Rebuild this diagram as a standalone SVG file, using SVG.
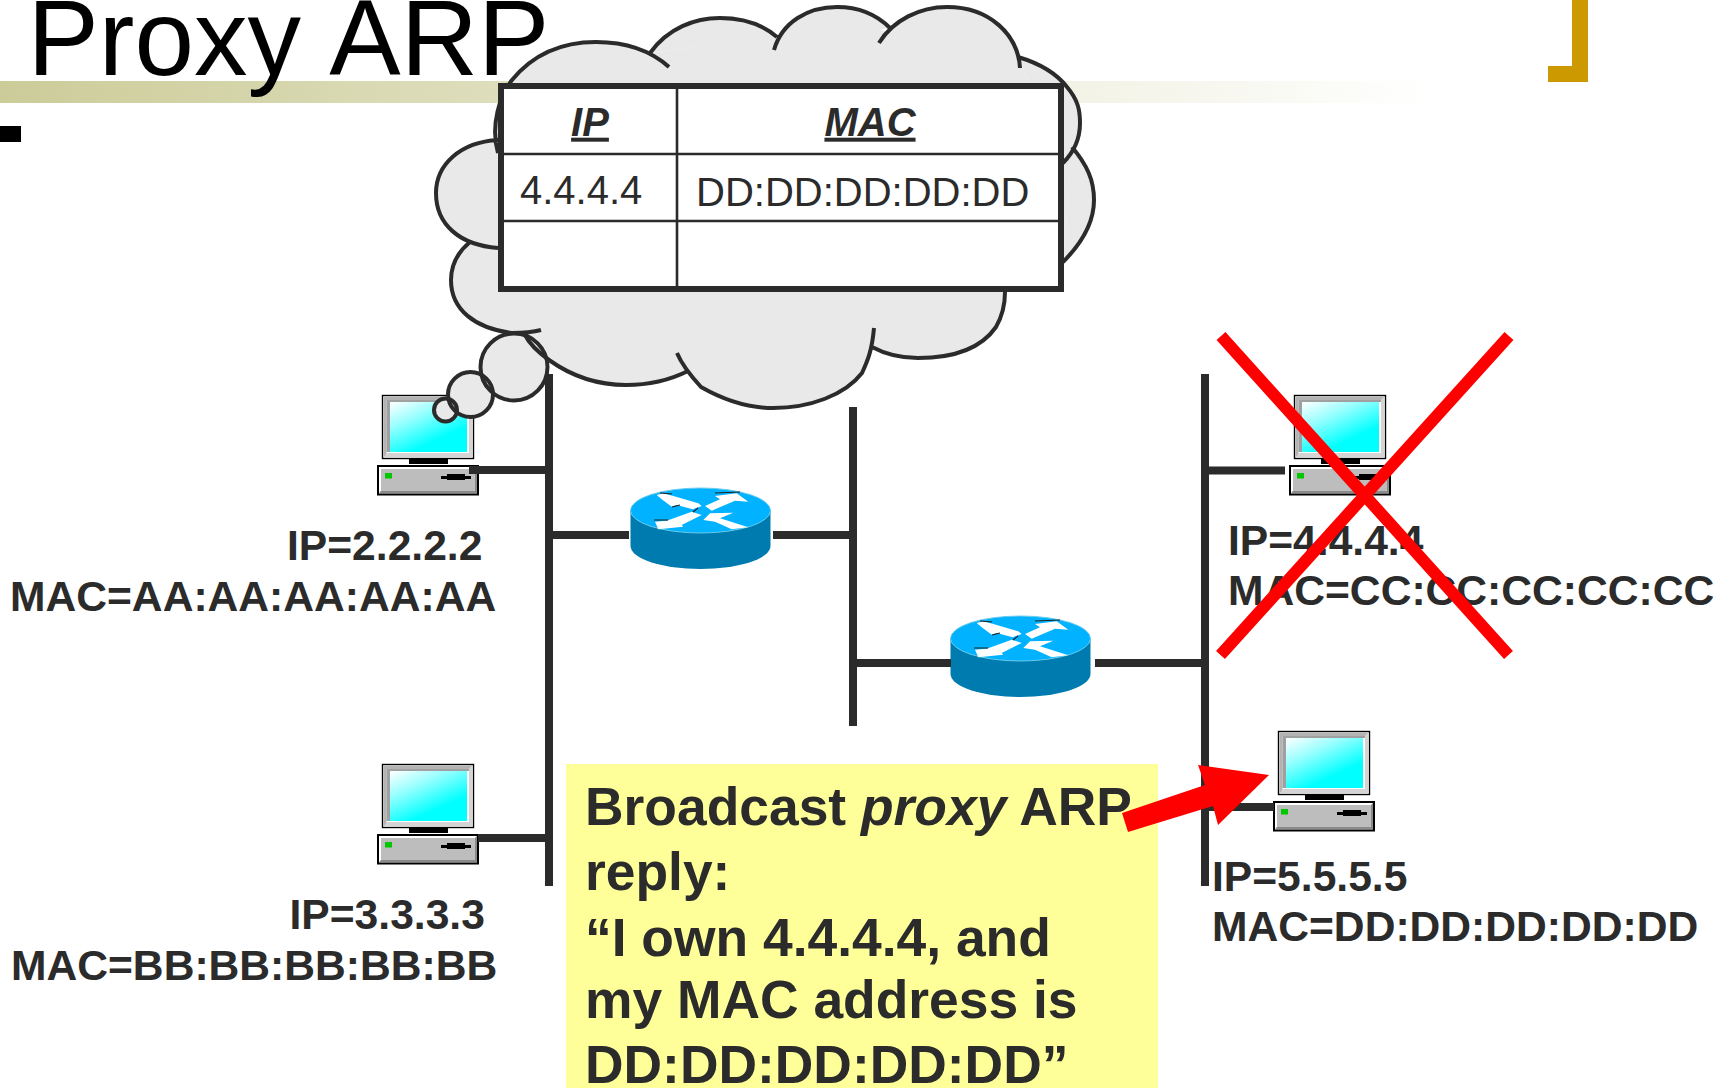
<svg xmlns="http://www.w3.org/2000/svg" xmlns:xlink="http://www.w3.org/1999/xlink" width="1720" height="1088" viewBox="0 0 1720 1088">
<style>
text{font-family:"Liberation Sans",Arial,sans-serif;fill:#2b2b2b}
.lbl{font-size:42.6px;font-weight:bold}
.note{font-size:53.4px;font-weight:bold}
.th{font-size:40px;font-weight:bold;font-style:italic;text-decoration:underline;text-anchor:middle}
.td{font-size:40px}
.wire{stroke:#2b2b2b;stroke-width:8;fill:none}
.grid{stroke:#2b2b2b;stroke-width:2.6;fill:none}
.cross{stroke:#ff0000;stroke-width:12;fill:none}
</style>
<defs>
<linearGradient id="bar" x1="0" x2="1" y1="0" y2="0"><stop offset="0" stop-color="#cccc99"/><stop offset="1" stop-color="#ffffff"/></linearGradient>
<linearGradient id="scr" x1="0" y1="0" x2="0.7" y2="1"><stop offset="0" stop-color="#ffffff"/><stop offset="0.35" stop-color="#99ffff"/><stop offset="0.8" stop-color="#00ffff"/></linearGradient>
<g id="pc">
<rect x="382.5" y="395.5" width="91" height="63" fill="#ffffff" stroke="#000000" stroke-width="1.4"/>
<path d="M383.5,396.5H472.5L469,400H386.5V455L383.5,457.5Z" fill="#b3b3b3"/>
<path d="M386.5,400H469V402H390V452H386.5Z" fill="#a0a0a0"/>
<rect x="390" y="402" width="77" height="50" fill="url(#scr)"/>
<path d="M386.5,453H469V400L472.5,397V457.5H384Z" fill="#d4d4d4"/>
<rect x="409" y="458" width="39" height="6" fill="#000000"/>
<rect x="378" y="466" width="100" height="28.5" fill="#bdbdbd" stroke="#000000" stroke-width="2"/>
<path d="M379,467H477L475,469H381V491L379,493.5Z" fill="#ffffff"/>
<path d="M379,493.5L381,491H475V469L477,467V493.5Z" fill="#8a8a8a"/>
<rect x="385" y="473" width="7" height="5.5" fill="#00c800"/>
<rect x="441" y="476" width="30" height="3" fill="#000000"/>
<rect x="447" y="474" width="18" height="6" fill="#000000"/>
</g>
<g id="router">
<path d="M630.5,511V546A70,23 0 0 0 770.5,546V511Z" fill="#007bb0"/>
<ellipse cx="700.5" cy="510.5" rx="70" ry="22.5" fill="#00b2ff" stroke="#66ccee" stroke-width="1"/>
<polygon points="656.7,495 663.3,493.3 673.3,496 698.3,503.3 701.7,506 692.7,509.3 676.7,505 671.7,506.7 661.7,499.3" fill="#ffffff"/>
<polygon points="705,506 720,499.3 715,496 736.7,493.3 748.3,501.7 735,500.7 711.7,510.7" fill="#ffffff"/>
<polygon points="655,521.7 666.7,520.7 691.7,511.7 701.7,515 681.7,525 683.3,526.7 658.3,529.3" fill="#ffffff"/>
<polygon points="703.3,520 710,513.3 733.3,512.7 720,518.3 748.3,527.3 731.7,529.3 715,521.7" fill="#ffffff"/>
<path d="M660,493L672,494M715,493L740,492M654,520L668,520M672,507L680,505M693,512L698,508" stroke="#222222" stroke-width="1.2" fill="none"/>
</g>
<path id="lobes" d="M498,153C490,125 500,95 512,80C535,52 565,42 596,42C625,42 650,50 669,67
M650,53C668,28 695,18 720,18C745,18 763,25 777,37
M774,50C782,22 808,7 837,7C860,7 878,16 890,28
M879,43C893,20 920,7 947,7C990,7 1018,35 1020,68
M1018,57C1045,65 1060,78 1067,87C1078,100 1080,110 1080,123C1080,140 1073,153 1063,163
M1072,147C1087,165 1094,180 1094,200C1094,225 1080,245 1063,262
M1005,292C1005,310 1000,320 996,327C980,350 950,358 918,358C900,358 885,354 872,347
M874,328C872,350 868,360 862,373C845,395 810,408 773,408C740,408 715,395 701,387C690,375 682,365 677,353
M688,371C670,380 650,385 626,385C595,385 570,375 549,360C538,352 530,345 525,335
M541,330C530,333 522,333 511.5,333C475,328 451,310 451,280C451,265 458,252 470,242
M498,248C460,245 436,225 436,193C436,165 460,142 498,140"/>
<g id="bubbles">
<circle cx="514" cy="367" r="33.5"/>
<circle cx="470.5" cy="394.5" r="22.5"/>
<circle cx="445.5" cy="410" r="11.5"/>
</g>
</defs>

<g id="title">
<rect x="0" y="81" width="1430" height="22" fill="url(#bar)"/>
<text x="27.5" y="75" style="font-size:107px;fill:#000000">Proxy <tspan dx="4.5">ARP</tspan></text>
<rect x="0" y="126" width="21" height="16" fill="#000000"/>
<path d="M1572,0H1588V82H1548V66H1572Z" fill="#cc9900"/>
</g>

<g id="pc-a"><use xlink:href="#pc"/><text class="lbl" x="287" y="560">IP=2.2.2.2</text><text class="lbl" x="10" y="611">MAC=AA:AA:AA:AA:AA</text></g>
<g id="pc-b"><use xlink:href="#pc" y="369"/><text class="lbl" x="289.5" y="929">IP=3.3.3.3</text><text class="lbl" x="11" y="980">MAC=BB:BB:BB:BB:BB</text></g>
<g id="pc-c"><use xlink:href="#pc" x="912"/><text class="lbl" x="1228" y="555">IP=4.4.4.4</text><text class="lbl" x="1228" y="605">MAC=CC:CC:CC:CC:CC</text></g>
<g id="pc-d"><use xlink:href="#pc" x="896" y="336"/><text class="lbl" x="1212" y="891">IP=5.5.5.5</text><text class="lbl" x="1212" y="941">MAC=DD:DD:DD:DD:DD</text></g>

<g id="cloud">
<polygon points="498,140 520,70 650,53 774,37 880,30 1018,57 1063,163 1072,150 1063,262 1005,292 996,327 872,347 862,373 677,353 688,371 549,360 525,335 470,242 498,248" fill="#e9e9e9"/>
<use xlink:href="#lobes" fill="#e9e9e9" stroke="none"/>
<use xlink:href="#bubbles" fill="#e9e9e9" stroke="none"/>
<use xlink:href="#bubbles" fill="none" stroke="#2b2b2b" stroke-width="4"/>
<use xlink:href="#lobes" fill="none" stroke="#2b2b2b" stroke-width="4"/>
</g>

<g id="table">
<rect x="501" y="86" width="560" height="203" fill="#ffffff" stroke="#2b2b2b" stroke-width="6"/>
<path class="grid" d="M677,84V291M503,154H1059M503,221H1059"/>
<text class="th" x="590" y="135.7">IP</text>
<text class="th" x="870" y="135.7">MAC</text>
<text class="td" x="520" y="204">4.4.4.4</text>
<text class="td" x="696" y="206">DD:DD:DD:DD:DD</text>
</g>

<g id="routers"><g id="router-a"><use xlink:href="#router"/></g><g id="router-b"><use xlink:href="#router" x="320" y="128"/></g></g>

<g id="connectors">
<path class="wire" d="M549,374V886M853,407V726M1205,374V886"/>
<path class="wire" d="M469,470H549M549,838H478M553,535H629M773,535H853M857,663H951M1095,663H1205M1209,470.5H1285M1209,807H1274"/>
</g>

<g id="note">
<rect x="566" y="764" width="592" height="324" fill="#ffff99"/>
<text class="note" x="585" y="825">Broadcast <tspan font-style="italic">proxy</tspan> ARP</text>
<text class="note" x="585" y="890">reply:</text>
<text class="note" x="585" y="955.5">“I own 4.4.4.4, and</text>
<text class="note" x="585" y="1018">my MAC address is</text>
<text class="note" x="585" y="1083">DD:DD:DD:DD:DD”</text>
</g>

<g id="marks">
<path class="cross" d="M1221,336L1508.5,655M1509,336L1220.5,655"/>
<polygon points="1122,813 1205,785 1198,765 1269,775 1218,825 1213,806 1128,832" fill="#ff0000"/>
</g>
</svg>
